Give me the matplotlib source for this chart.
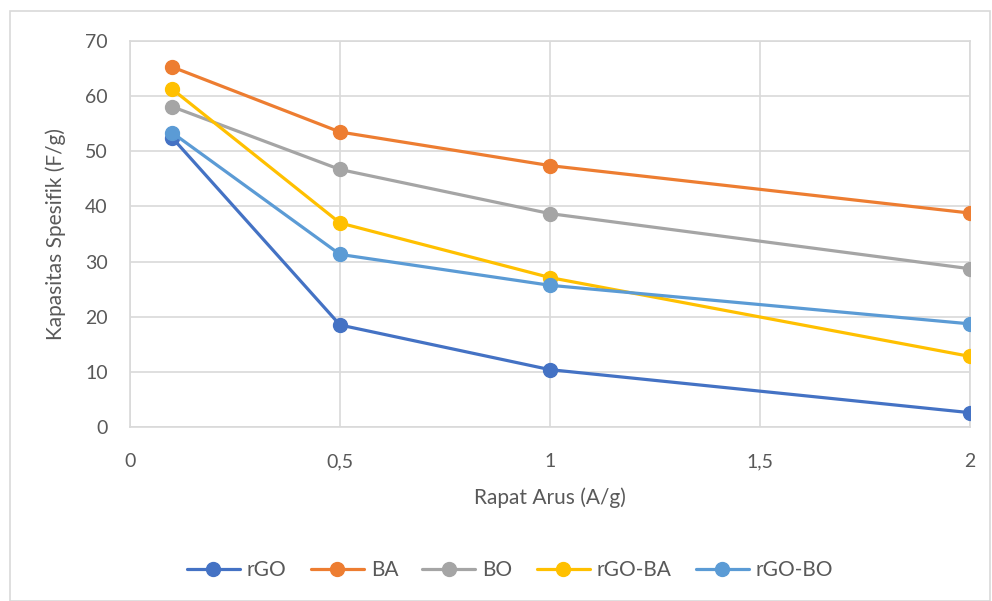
import matplotlib
matplotlib.use("Agg")
import matplotlib.pyplot as plt
from matplotlib.patches import Rectangle

x = [0.1, 0.5, 1, 2]
series_names = ["rGO", "BA", "BO", "rGO-BA", "rGO-BO"]
rGO = [52.5, 18.5, 10.4, 2.6]
BA = [65.3, 53.5, 47.4, 38.8]
BO = [58.1, 46.7, 38.7, 28.7]
rGO_BA = [61.3, 37.0, 27.1, 12.8]
rGO_BO = [53.4, 31.3, 25.7, 18.7]
colors = ["#4472C4", "#ED7D31", "#A5A5A5", "#FFC000", "#5B9BD5"]
xticks = [0, 0.5, 1, 1.5, 2]
xticklabels = ["0", "0,5", "1", "1,5", "2"]
yticks = [0, 10, 20, 30, 40, 50, 60, 70]

plt.rcParams['font.family'] = ['Lato', 'DejaVu Sans']
txt = "#595959"
grid = "#D9D9D9"

fig = plt.figure(figsize=(9.92, 6.01), dpi=100)
fig.patches.append(Rectangle((10/992, 0), 980/992, 1 - 11/601, transform=fig.transFigure,
                             fill=False, edgecolor=grid, linewidth=1.2))
ax = fig.add_axes([130/992, 1 - 427/601, 840/992, 386/601])

for name, vals, c in zip(series_names, [rGO, BA, BO, rGO_BA, rGO_BO], colors):
    ax.plot(x, vals, color=c, lw=2.3, marker='o', markersize=10, label=name,
            solid_capstyle='round', zorder=3)

ax.set_xlim(0, 2)
ax.set_ylim(0, 70)
ax.set_xticks(xticks)
ax.set_xticklabels(xticklabels)
ax.set_yticks(yticks)
ax.grid(True, color=grid, lw=1.2)
ax.set_axisbelow(True)
for s in ax.spines.values():
    s.set_color(grid)
    s.set_linewidth(1.2)
ax.tick_params(length=0, labelsize=14, colors=txt)
ax.tick_params(axis='x', pad=19)
ax.tick_params(axis='y', pad=16)
ax.set_xlabel("Rapat Arus (A/g)", fontsize=15, color=txt, labelpad=12)
ax.set_ylabel("Kapasitas Spesifik (F/g)", fontsize=15, color=txt, labelpad=14)

leg = fig.legend(loc='center', bbox_to_anchor=(510/992, 1 - 570/601), ncol=5,
                 frameon=False, fontsize=15, handlelength=2.55, columnspacing=1.15,
                 handletextpad=0.34, labelcolor=txt)

fig.savefig("out.png", dpi=100)
